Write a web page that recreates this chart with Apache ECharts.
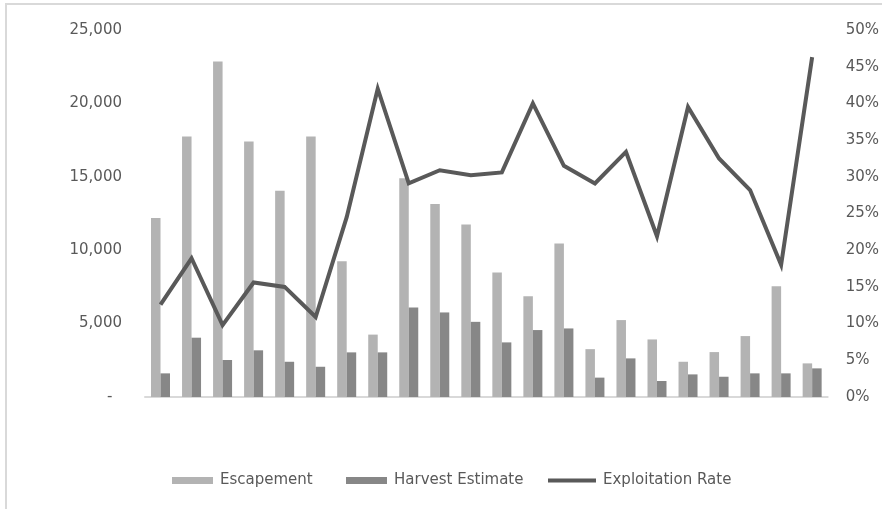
<!DOCTYPE html>
<html>
<head>
<meta charset="utf-8">
<script src="https://cdn.jsdelivr.net/npm/echarts@6/dist/echarts.min.js"></script>
<style>
  html, body { margin: 0; padding: 0; background: #ffffff; }
  #chart { width: 882px; height: 509px; }
</style>
</head>
<body>
<div id="chart"></div>
<script>
// Run years (index only; the category axis carries no labels)
const categories = ['1', '2', '3', '4', '5', '6', '7', '8', '9', '10', '11',
                    '12', '13', '14', '15', '16', '17', '18', '19', '20', '21', '22'];

// Fish counts
const escapement = [12200, 17750, 22850, 17400, 14050, 17750, 9250, 4250, 14900, 13150, 11750,
                    8480, 6870, 10450, 3260, 5240, 3920, 2400, 3060, 4150, 7550, 2290];
const harvestEstimate = [1610, 4040, 2520, 3180, 2400, 2060, 3040, 3040, 6100, 5760, 5120,
                         3720, 4560, 4670, 1320, 2630, 1090, 1540, 1380, 1610, 1610, 1950];

// Harvest share of the run (fraction)
const exploitationRate = [0.126, 0.189, 0.098, 0.156, 0.150, 0.109, 0.245, 0.420, 0.291, 0.309, 0.302,
                          0.306, 0.400, 0.315, 0.291, 0.334, 0.219, 0.395, 0.325, 0.282, 0.180, 0.463];

const leftTicks = [0, 5000, 10000, 15000, 20000, 25000];
const rightTicks = [0, 0.05, 0.10, 0.15, 0.20, 0.25, 0.30, 0.35, 0.40, 0.45, 0.50];

const textColor = '#595959';
const font = 'DejaVu Sans';

const chart = echarts.init(document.getElementById('chart'), null, { renderer: 'canvas' });

const legendBase = {
  top: 473,
  itemWidth: 41,
  itemHeight: 7,
  itemGap: 0,
  padding: 0,
  textStyle: { color: textColor, fontFamily: font, fontSize: 15, padding: [0, 0, 0, 2] },
  selectedMode: false
};

chart.setOption({
  animation: false,
  backgroundColor: '#ffffff',
  graphic: [{
    type: 'rect',
    shape: { x: 6, y: 4, width: 900, height: 520 },
    style: { fill: 'none', stroke: '#d9d9d9', lineWidth: 2 },
    silent: true
  }],
  grid: { left: 145, right: 54, top: 30, bottom: 112, containLabel: false },
  legend: [
    Object.assign({}, legendBase, { left: 172, data: [{ name: 'Escapement', icon: 'rect' }] }),
    Object.assign({}, legendBase, { left: 346, data: [{ name: 'Harvest Estimate', icon: 'rect' }] }),
    Object.assign({}, legendBase, { left: 548, itemWidth: 48, itemHeight: 4,
                                    data: [{ name: 'Exploitation Rate', icon: 'rect' }] })
  ],
  xAxis: {
    type: 'category',
    data: categories,
    axisLine: { show: true, lineStyle: { color: '#d9d9d9', width: 2 } },
    axisTick: { show: false },
    axisLabel: { show: false },
    splitLine: { show: false }
  },
  yAxis: [{
    type: 'value',
    min: leftTicks[0],
    max: leftTicks[leftTicks.length - 1],
    interval: leftTicks[1] - leftTicks[0],
    axisLine: { show: false },
    axisTick: { show: false },
    splitLine: { show: false },
    axisLabel: {
      color: textColor,
      fontFamily: font,
      fontSize: 15,
      margin: 23,
      formatter: v => v === 0 ? '-  ' : v.toLocaleString('en-US')
    }
  }, {
    type: 'value',
    min: rightTicks[0],
    max: rightTicks[rightTicks.length - 1],
    interval: 0.05,
    axisLine: { show: false },
    axisTick: { show: false },
    splitLine: { show: false },
    axisLabel: {
      color: textColor,
      fontFamily: font,
      fontSize: 15,
      margin: 18,
      formatter: v => Math.round(v * 100) + '%'
    }
  }],
  series: [{
    name: 'Escapement',
    type: 'bar',
    data: escapement,
    barWidth: 9.5,
    barGap: '0%',
    itemStyle: { color: '#b3b3b3' }
  }, {
    name: 'Harvest Estimate',
    type: 'bar',
    data: harvestEstimate,
    barWidth: 9.5,
    barGap: '0%',
    itemStyle: { color: '#878787' }
  }, {
    name: 'Exploitation Rate',
    type: 'line',
    yAxisIndex: 1,
    data: exploitationRate,
    symbol: 'none',
    lineStyle: { color: '#595959', width: 4, join: 'miter' },
    itemStyle: { color: '#595959' },
    z: 5
  }]
});
</script>
</body>
</html>
